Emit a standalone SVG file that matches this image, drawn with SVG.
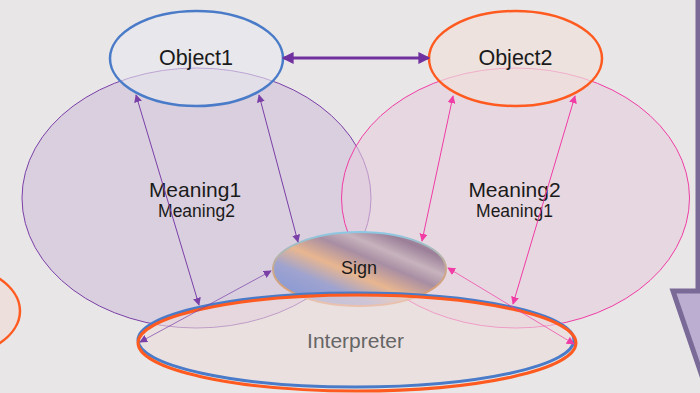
<svg xmlns="http://www.w3.org/2000/svg" width="700" height="393" viewBox="0 0 700 393">
<defs>
<style>
.t{font-family:"Liberation Sans",Arial,sans-serif;fill:#1a1a1a;text-anchor:middle}
.pl{stroke:#7b3fa8;stroke-width:1;fill:none}
.pk{stroke:#f03ca4;stroke-width:1;fill:none}
</style>
<marker id="ap" viewBox="0 0 10 10" refX="9" refY="5" markerWidth="8" markerHeight="8" markerUnits="userSpaceOnUse" orient="auto-start-reverse"><path d="M0,0 L10,5 L0,10 z" fill="#7b3fa8"/></marker>
<marker id="ak" viewBox="0 0 10 10" refX="9" refY="5" markerWidth="8" markerHeight="8" markerUnits="userSpaceOnUse" orient="auto-start-reverse"><path d="M0,0 L10,5 L0,10 z" fill="#f03ca4"/></marker>
<marker id="ab" viewBox="0 0 10 10" refX="8" refY="5" markerWidth="12" markerHeight="12" markerUnits="userSpaceOnUse" orient="auto-start-reverse"><path d="M0,0 L10,5 L0,10 z" fill="#7030a0"/></marker>
<linearGradient id="sg" x1="0" y1="1" x2="1" y2="0">
<stop offset="0" stop-color="#7b93d8"/>
<stop offset="0.3" stop-color="#9fa3cf"/>
<stop offset="0.45" stop-color="#e8b690"/>
<stop offset="0.6" stop-color="#a88ea3"/>
<stop offset="0.7" stop-color="#c7b3bd"/>
<stop offset="0.82" stop-color="#9b7f98"/>
<stop offset="1" stop-color="#bca9b8"/>
</linearGradient>
<linearGradient id="ss" x1="0" y1="0" x2="0" y2="1">
<stop offset="0" stop-color="#8cc8e4"/>
<stop offset="0.5" stop-color="#c9a88c"/>
<stop offset="1" stop-color="#e39a68"/>
</linearGradient>
</defs>
<rect width="700" height="393" fill="#e8e6e7"/>
<path d="M698,-5 L698,291 L673,291 L705,385 L705,-5 Z" fill="#bbaed0" stroke="#7a6a98" stroke-width="5"/>
<g id="left-partial"><ellipse cx="-66" cy="311" rx="86" ry="50" fill="#ede0dc" stroke="#ff5a1f" stroke-width="2.5"/></g>
<g id="meaning1"><ellipse cx="196.5" cy="198" rx="174.5" ry="130" fill="#cfc0da" fill-opacity="0.6" stroke="#7b3fa8" stroke-width="1"/></g>
<g id="meaning2"><ellipse cx="515.5" cy="198" rx="174" ry="130" fill="#e6cddd" fill-opacity="0.6" stroke="#f03ca4" stroke-width="1"/></g>
<g id="object1"><ellipse cx="196.5" cy="58.5" rx="86.5" ry="47.5" fill="#e8e9f0" fill-opacity="0.6" stroke="#4a7bc8" stroke-width="2.5"/><text class="t" x="196" y="65" font-size="21.5">Object1</text></g>
<g id="object2"><ellipse cx="515.5" cy="58.5" rx="86.5" ry="47.5" fill="#f0e0da" fill-opacity="0.7" stroke="#ff5a1f" stroke-width="2.5"/><text class="t" x="515.5" y="65" font-size="21.5">Object2</text></g>
<g id="sign"><ellipse cx="359.5" cy="269" rx="86.5" ry="37" fill="url(#sg)" stroke="url(#ss)" stroke-width="2"/><text class="t" x="359" y="274" font-size="18">Sign</text></g>
<g id="interpreter">
<ellipse cx="356" cy="340" rx="218" ry="47" fill="#ecdcdc" fill-opacity="0.6" stroke="#4a7bc8" stroke-width="3"/>
<ellipse cx="357" cy="343" rx="219" ry="48" fill="none" stroke="#ff5a1f" stroke-width="3"/>
<text x="355.5" y="348" font-size="21" font-family="'Liberation Sans',Arial,sans-serif" fill="#666" text-anchor="middle">Interpreter</text>
</g>
<g id="labels">
<text class="t" x="195" y="197" font-size="21">Meaning1</text>
<text class="t" x="196.5" y="217" font-size="17.5">Meaning2</text>
<text class="t" x="514.5" y="197" font-size="21">Meaning2</text>
<text class="t" x="514.5" y="217" font-size="17.5">Meaning1</text>
</g>
<g id="connectors">
<line x1="284" y1="58" x2="428" y2="58" stroke="#7030a0" stroke-width="3" marker-start="url(#ab)" marker-end="url(#ab)"/>
<line class="pl" x1="136" y1="95" x2="199" y2="305" marker-start="url(#ap)" marker-end="url(#ap)"/>
<line class="pl" x1="259" y1="95" x2="298" y2="242" marker-start="url(#ap)" marker-end="url(#ap)"/>
<line class="pl" x1="140" y1="342" x2="271" y2="271" stroke-opacity="0.7" marker-start="url(#ap)" marker-end="url(#ap)"/>
<line class="pk" x1="453" y1="96" x2="422" y2="241" marker-start="url(#ak)" marker-end="url(#ak)"/>
<line class="pk" x1="575" y1="96" x2="513" y2="304" marker-start="url(#ak)" marker-end="url(#ak)"/>
<line class="pk" x1="448" y1="268" x2="574" y2="344" stroke-opacity="0.7" marker-start="url(#ak)" marker-end="url(#ak)"/>
</g>
</svg>
